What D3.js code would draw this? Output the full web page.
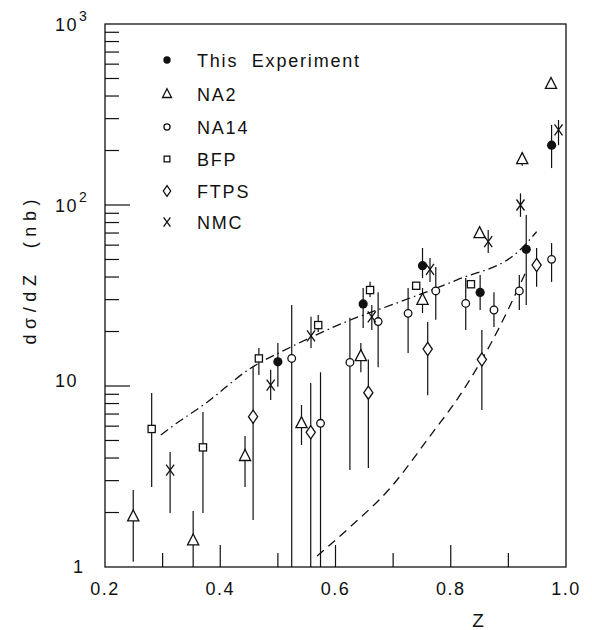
<!DOCTYPE html>
<html lang="en">
<head>
<meta charset="utf-8">
<title>d sigma / dZ</title>
<script src="https://cdn.jsdelivr.net/npm/d3@7"></script>
<style>
body { margin: 0; background: #fff; }
text { font-family: "Liberation Sans", Arial, sans-serif; fill: #111; }
.frame { fill: none; stroke: #111; stroke-width: 1.3; }
.tick { stroke: #111; stroke-width: 1.2; }
.err { stroke: #111; stroke-width: 1.2; }
.curve { fill: none; stroke: #111; stroke-width: 1.3; }
</style>
</head>
<body>
<script>

// This Experiment (filled circles)
var expZ  = [0.500, 0.648, 0.751, 0.851, 0.931, 0.975];
var expV  = [13.6, 28.4, 46.2, 32.9, 56.9, 214];
var expLo = [9.9, 20.9, 39.5, 26.3, 28, 160];
var expHi = [17.3, 34.8, 57.9, 41, 88, 277];

// NA2 (triangles)
var na2Z  = [0.249, 0.353, 0.443, 0.541, 0.644, 0.751, 0.850, 0.924, 0.974];
var na2V  = [1.90, 1.40, 4.10, 6.22, 14.6, 29.9, 69.8, 179, 466];
var na2Lo = [1.07, 1, 2.77, 4.72, 11.9, 25.3, 69.8, 165, 466];
var na2Hi = [2.66, 2.04, 5.29, 7.85, 17.3, 34.8, 69.8, 195, 466];

// NA14 (open circles)
var na14Z  = [0.524, 0.574, 0.625, 0.674, 0.726, 0.774, 0.826, 0.875, 0.919, 0.975];
var na14V  = [14.2, 6.22, 13.5, 22.7, 25.2, 33.5, 28.6, 26.3, 33.5, 50.1];
var na14Lo = [1, 1, 3.43, 12.7, 15.2, 23.2, 20.4, 21.2, 26.3, 37.6];
var na14Hi = [28, 11.9, 23.8, 33, 34.8, 45.5, 39.5, 33, 41, 61.6];

// BFP (squares)
var bfpZ  = [0.281, 0.370, 0.467, 0.570, 0.660, 0.740, 0.835];
var bfpV  = [5.79, 4.58, 14.2, 21.7, 33.9, 35.8, 36.5];
var bfpLo = [2.77, 1.99, 11.5, 19.9, 31, 35.8, 36.5];
var bfpHi = [9.15, 7.18, 16.2, 24.7, 37.7, 35.8, 36.5];

// FTPS (diamonds)
var ftpsZ  = [0.457, 0.557, 0.657, 0.760, 0.854, 0.949];
var ftpsV  = [6.77, 5.55, 9.19, 16.0, 14.0, 46.6];
var ftpsLo = [1.82, 1, 3.52, 8.9, 7.37, 35.3];
var ftpsHi = [12.7, 10.4, 14, 22.6, 20.4, 57.9];

// NMC (crosses)
var nmcZ  = [0.313, 0.4875, 0.5575, 0.663, 0.764, 0.865, 0.921, 0.987];
var nmcV  = [3.43, 10.1, 18.9, 24.1, 44.1, 62.7, 100, 260];
var nmcLo = [1.99, 8.37, 16.2, 20.4, 37.6, 54.3, 86, 214];
var nmcHi = [4.32, 12.3, 24.1, 28, 51, 72.8, 116, 295];

// curves
var dashDotZ = [0.297, 0.316, 0.374, 0.452, 0.524, 0.619, 0.712, 0.810, 0.920, 0.949];
var dashDotV = [5.36, 5.96, 8.0, 12.5, 16.5, 22.7, 29.2, 38.5, 56.4, 71.2];
var dashedZ  = [0.568, 0.625, 0.695, 0.764, 0.816, 0.868, 0.932];
var dashedV  = [1.15, 1.66, 2.73, 5.29, 8.9, 16.8, 43.7];

var xTicks = [0.2, 0.4, 0.6, 0.8, 1.0];
var xTickLabels = ["0.2", "0.4", "0.6", "0.8", "1.0"];
var legendNames = ["This  Experiment", "NA2", "NA14", "BFP", "FTPS", "NMC"];

var width = 592,
    height = 630;

var x = d3.scaleLinear().domain([0.2, 1.0]).range([105, 566]);
var y = d3.scaleLog().domain([1, 1000]).range([567, 24]);

var svg = d3.select("body")
    .append("svg")
        .attr("width", width)
        .attr("height", height);

svg.append("rect").attr("width", width).attr("height", height).attr("fill", "#fff");

// frame
svg.append("rect")
    .attr("class", "frame")
    .attr("x", x(0.2))
    .attr("y", y(1000))
    .attr("width", x(1.0) - x(0.2))
    .attr("height", y(1) - y(1000));

// bottom ticks (inward)
d3.range(3, 10).forEach(function(i) {
    var v = i / 10;
    var len = (i % 2 == 0) ? 22 : 14;
    svg.append("line").attr("class", "tick")
        .attr("x1", x(v)).attr("x2", x(v))
        .attr("y1", y(1)).attr("y2", y(1) - len);
});

// left ticks (inward)
[1, 10, 100].forEach(function(dec) {
    d3.range(1, 10).forEach(function(m) {
        var v = dec * m;
        if (v == 1) return;
        var len = (m == 1) ? 25 : 14;
        svg.append("line").attr("class", "tick")
            .attr("x1", x(0.2)).attr("x2", x(0.2) + len)
            .attr("y1", y(v)).attr("y2", y(v));
    });
});

// y tick labels
var ls = "1.5px";
svg.append("text").attr("x", 83).attr("y", y(1) + 6)
    .attr("text-anchor", "end").style("font-size", "18px").text("1");
svg.append("text").attr("x", 78).attr("y", y(10) + 1)
    .attr("text-anchor", "end").style("font-size", "18px").style("letter-spacing", ls).text("10");
[[100, "2"], [1000, "3"]].forEach(function(p) {
    svg.append("text").attr("x", 78).attr("y", y(p[0]) + 7)
        .attr("text-anchor", "end").style("font-size", "18px").style("letter-spacing", ls).text("10");
    svg.append("text").attr("x", 79).attr("y", y(p[0]) - 3)
        .style("font-size", "14px").text(p[1]);
});

// x tick labels
xTicks.forEach(function(t, i) {
    svg.append("text")
        .attr("x", x(t)).attr("y", 595)
        .attr("text-anchor", "middle")
        .style("font-size", "18px").style("letter-spacing", ls)
        .text(xTickLabels[i]);
});

// axis titles
svg.append("text")
    .attr("x", 478).attr("y", 627)
    .attr("text-anchor", "middle")
    .style("font-size", "19px")
    .text("Z");

svg.append("text")
    .attr("transform", "translate(36,272) rotate(-90)")
    .attr("text-anchor", "middle")
    .attr("textLength", 145)
    .attr("lengthAdjust", "spacing")
    .style("font-size", "18px")
    .style("white-space", "pre")
    .text("d\u03c3/dZ  (nb)");

// curves
var line = d3.line()
    .x(function(d) { return x(d[0]); })
    .y(function(d) { return y(d[1]); })
    .curve(d3.curveMonotoneX);

svg.append("path").attr("class", "curve")
    .attr("stroke-dasharray", "9,4,1.5,4")
    .attr("d", line(d3.zip(dashDotZ, dashDotV)));

svg.append("path").attr("class", "curve")
    .attr("stroke-dasharray", "9,6")
    .attr("d", line(d3.zip(dashedZ, dashedV)));

// markers
function drawMarker(g, kind, cx, cy, s) {
    if (kind == "dot") {
        g.append("circle").attr("cx", cx).attr("cy", cy).attr("r", 4.6 * s)
            .attr("fill", "#111");
    } else if (kind == "circle") {
        g.append("circle").attr("cx", cx).attr("cy", cy).attr("r", 3.8 * s)
            .attr("fill", "#fff").attr("stroke", "#111").attr("stroke-width", 1.3);
    } else if (kind == "square") {
        g.append("rect").attr("x", cx - 3.6 * s).attr("y", cy - 3.6 * s)
            .attr("width", 7.2 * s).attr("height", 7.2 * s)
            .attr("fill", "#fff").attr("stroke", "#111").attr("stroke-width", 1.3);
    } else if (kind == "triangle") {
        var w = 5.6 * s, h = 11 * s;
        g.append("path")
            .attr("d", "M" + cx + "," + (cy - h * 0.6) + "L" + (cx + w) + "," + (cy + h * 0.4) +
                "L" + (cx - w) + "," + (cy + h * 0.4) + "Z")
            .attr("fill", "#fff").attr("stroke", "#111").attr("stroke-width", 1.3);
    } else if (kind == "diamond") {
        var dw = 4.6 * s, dh = 6.6 * s;
        g.append("path")
            .attr("d", "M" + cx + "," + (cy - dh) + "L" + (cx + dw) + "," + cy +
                "L" + cx + "," + (cy + dh) + "L" + (cx - dw) + "," + cy + "Z")
            .attr("fill", "#fff").attr("stroke", "#111").attr("stroke-width", 1.3);
    } else if (kind == "cross") {
        var cw = 4 * s, ch = 5.5 * s;
        g.append("path")
            .attr("d", "M" + (cx - cw) + "," + (cy - ch) + "L" + (cx + cw) + "," + (cy + ch) +
                "M" + (cx + cw) + "," + (cy - ch) + "L" + (cx - cw) + "," + (cy + ch))
            .attr("fill", "none").attr("stroke", "#111").attr("stroke-width", 1.3);
    }
}

var series = [
    { kind: "dot",      z: expZ,  v: expV,  lo: expLo,  hi: expHi },
    { kind: "triangle", z: na2Z,  v: na2V,  lo: na2Lo,  hi: na2Hi },
    { kind: "circle",   z: na14Z, v: na14V, lo: na14Lo, hi: na14Hi },
    { kind: "square",   z: bfpZ,  v: bfpV,  lo: bfpLo,  hi: bfpHi },
    { kind: "diamond",  z: ftpsZ, v: ftpsV, lo: ftpsLo, hi: ftpsHi },
    { kind: "cross",    z: nmcZ,  v: nmcV,  lo: nmcLo,  hi: nmcHi }
];

// error bars first
series.forEach(function(s) {
    s.z.forEach(function(z, i) {
        if (s.lo[i] == s.hi[i]) return;
        svg.append("line").attr("class", "err")
            .attr("x1", x(z)).attr("x2", x(z))
            .attr("y1", y(Math.max(1, s.lo[i]))).attr("y2", y(s.hi[i]));
    });
});

var marks = svg.append("g");
series.forEach(function(s) {
    s.z.forEach(function(z, i) {
        drawMarker(marks, s.kind, x(z), y(s.v[i]), 1);
    });
});

// legend
var legendY = [60, 94, 127, 159, 191, 222];
var legendScale = [0.8, 0.8, 0.8, 0.8, 0.8, 0.85];
series.forEach(function(s, i) {
    drawMarker(svg, s.kind, 167, legendY[i], legendScale[i]);
    svg.append("text")
        .attr("x", 197).attr("y", legendY[i] + 7)
        .style("font-size", "18px").style("letter-spacing", "1.8px")
        .style("white-space", "pre")
        .text(legendNames[i]);
});

</script>
</body>
</html>
